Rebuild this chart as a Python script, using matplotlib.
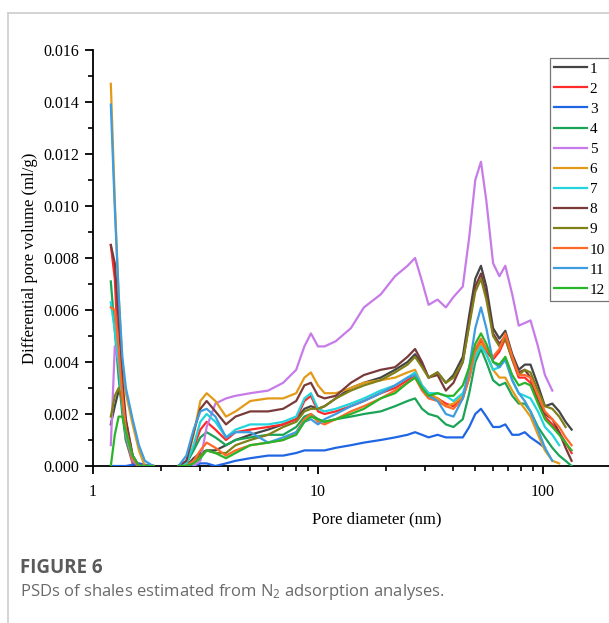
import numpy as np
import matplotlib
matplotlib.use("Agg")
import matplotlib.pyplot as plt
from matplotlib.lines import Line2D
from matplotlib.ticker import LogLocator, MultipleLocator, FixedLocator, NullFormatter

nan = np.nan

# pore diameters (nm)
diam_micro = [1.2, 1.25, 1.3, 1.35, 1.4, 1.5, 1.6, 1.7, 1.85]
diam_meso = [2.4, 2.6, 2.8, 3.0, 3.2, 3.5, 3.9, 4.3, 5, 6, 7, 8, 8.7, 9.3, 10, 10.7,
             12, 14, 16, 19, 22, 25, 27, 29, 31, 34, 37, 40, 44, 47, 50, 53, 56, 60,
             64, 68, 73, 78, 83, 88, 95, 102, 110, 118, 126, 134]

labels = ["1", "2", "3", "4", "5", "6", "7", "8", "9", "10", "11", "12"]
colors = ["#454545", "#ff2a2a", "#1f66e5", "#1aa457", "#c77be8", "#e39a18",
          "#22d4dc", "#7b3a3a", "#808018", "#ff6a2a", "#3d9ddf", "#2ab42a"]

# differential pore volume (ml/g), micropore part
s1_micro = [0.0016, 0.0023, 0.0029, 0.0027, 0.0017, 0.0004, 0.0, 0.0, 0.0]
s2_micro = [0.0085, 0.0072, 0.0040, 0.0022, 0.0010, 0.0001, 0.0, 0.0, 0.0]
s3_micro = [0.0, 0.0, 0.0, 0.0, 0.0, 0.00005, 0.0001, 0.00005, 0.0]
s4_micro = [0.0071, 0.0052, 0.0034, 0.0020, 0.0010, 0.0002, 0.0, 0.0, 0.0]
s5_micro = [0.0008, 0.0046, 0.0040, 0.0025, 0.0012, 0.0002, 0.0, 0.0, 0.0]
s6_micro = [0.0147, 0.0102, 0.0066, 0.0039, 0.0028, 0.0016, 0.0006, 0.0, 0.0]
s7_micro = [0.0063, 0.0052, 0.0040, 0.0024, 0.0013, 0.0003, 0.0, 0.0, 0.0]
s8_micro = [0.0085, 0.0078, 0.0056, 0.0033, 0.0018, 0.0004, 0.0, 0.0, 0.0]
s9_micro = [0.0019, 0.0027, 0.0030, 0.0025, 0.0014, 0.0003, 0.0, 0.0, 0.0]
s10_micro = [0.0061, 0.0060, 0.0045, 0.0027, 0.0014, 0.0003, 0.0, 0.0, 0.0]
s11_micro = [0.0139, 0.0099, 0.0066, 0.0042, 0.0030, 0.0018, 0.0008, 0.0002, 0.0]
s12_micro = [0.0, 0.0012, 0.0019, 0.0019, 0.0013, 0.0004, 0.0, 0.0, 0.0]

# mesopore part
s1_meso = [0, 0, 0.0003, 0.0005, 0.0006, 0.0006, 0.0008, 0.0010, 0.0012, 0.0014, 0.0016, 0.0018,
           0.0022, 0.0023, 0.0022, 0.0023, 0.0026, 0.0030, 0.0032, 0.0034, 0.0037, 0.0040, 0.0043,
           0.0039, 0.0034, 0.0036, 0.0032, 0.0035, 0.0042, 0.0058, 0.0072, 0.0077, 0.0069, 0.0053,
           0.0049, 0.0052, 0.0043, 0.0037, 0.0039, 0.0039, 0.0031, 0.0023, 0.0024, 0.0021, 0.0017, 0.0014]
s2_meso = [0, 0.0001, 0.0007, 0.0014, 0.0017, 0.0014, 0.0010, 0.0013, 0.0014, 0.0015, 0.0016, 0.0018,
           0.0025, 0.0027, 0.0021, 0.0020, 0.0021, 0.0023, 0.0025, 0.0028, 0.0030, 0.0033, 0.0035,
           0.0030, 0.0027, 0.0026, 0.0024, 0.0023, 0.0026, 0.0034, 0.0044, 0.0048, 0.0044, 0.0041,
           0.0044, 0.0049, 0.0041, 0.0034, 0.0034, 0.0032, 0.0025, 0.0019, 0.0016, 0.0013, 0.0009, 0.0005]
s3_meso = [0, 0, 0, 0.0001, 0.0001, 0.0, 0.0001, 0.0002, 0.0003, 0.0004, 0.0004, 0.0005,
           0.0006, 0.0006, 0.0006, 0.0006, 0.0007, 0.0008, 0.0009, 0.0010, 0.0011, 0.0012, 0.0013,
           0.0012, 0.0011, 0.0012, 0.0011, 0.0011, 0.0011, 0.0015, 0.0020, 0.0022, 0.0019, 0.0015,
           0.0015, 0.0016, 0.0012, 0.0012, 0.0013, 0.0011, 0.0009, 0.0007, nan, nan, nan, nan]
s4_meso = [0, 0.0001, 0.0006, 0.0011, 0.0013, 0.0011, 0.0008, 0.0010, 0.0011, 0.0012, 0.0012, 0.0015,
           0.0019, 0.0020, 0.0018, 0.0017, 0.0018, 0.0019, 0.0020, 0.0021, 0.0023, 0.0025, 0.0026,
           0.0022, 0.0020, 0.0019, 0.0016, 0.0015, 0.0018, 0.0028, 0.0040, 0.0045, 0.0040, 0.0033,
           0.0031, 0.0032, 0.0027, 0.0024, 0.0024, 0.0021, 0.0015, 0.0011, 0.0007, 0.0004, 0.0002, 0.0]
s5_meso = [nan, nan, 0.0, 0.0002, 0.0015, 0.0024, 0.0026, 0.0027, 0.0028, 0.0029, 0.0032, 0.0037,
           0.0046, 0.0051, 0.0046, 0.0046, 0.0048, 0.0053, 0.0061, 0.0066, 0.0073, 0.0077, 0.0080,
           0.0071, 0.0062, 0.0064, 0.0061, 0.0065, 0.0069, 0.0088, 0.0110, 0.0117, 0.0102, 0.0078,
           0.0073, 0.0077, 0.0066, 0.0054, 0.0055, 0.0056, 0.0046, 0.0035, 0.0029, nan, nan, nan]
s6_meso = [0, 0.0001, 0.0012, 0.0025, 0.0028, 0.0025, 0.0019, 0.0021, 0.0025, 0.0026, 0.0026, 0.0028,
           0.0034, 0.0036, 0.0031, 0.0028, 0.0028, 0.0030, 0.0032, 0.0033, 0.0034, 0.0036, 0.0037,
           0.0031, 0.0028, 0.0026, 0.0023, 0.0024, 0.0027, 0.0034, 0.0043, 0.0047, 0.0043, 0.0037,
           0.0034, 0.0034, 0.0029, 0.0025, 0.0022, 0.0019, 0.0012, 0.0006, 0.0002, 0.0001, nan, nan]
s7_meso = [0, 0.0001, 0.0008, 0.0017, 0.0020, 0.0017, 0.0011, 0.0014, 0.0016, 0.0016, 0.0017, 0.0019,
           0.0026, 0.0028, 0.0022, 0.0021, 0.0022, 0.0024, 0.0026, 0.0029, 0.0031, 0.0034, 0.0036,
           0.0031, 0.0028, 0.0028, 0.0027, 0.0025, 0.0028, 0.0034, 0.0042, 0.0046, 0.0043, 0.0037,
           0.0038, 0.0041, 0.0033, 0.0028, 0.0027, 0.0026, 0.0021, 0.0015, 0.0012, 0.0008, nan, nan]
s8_meso = [0, 0.0002, 0.0013, 0.0022, 0.0025, 0.0021, 0.0016, 0.0019, 0.0021, 0.0021, 0.0022, 0.0025,
           0.0031, 0.0032, 0.0027, 0.0026, 0.0027, 0.0032, 0.0035, 0.0037, 0.0038, 0.0042, 0.0045,
           0.0040, 0.0034, 0.0035, 0.0029, 0.0032, 0.0040, 0.0055, 0.0069, 0.0074, 0.0066, 0.0051,
           0.0047, 0.0050, 0.0042, 0.0036, 0.0037, 0.0034, 0.0025, 0.0020, 0.0018, 0.0013, 0.0007, 0.0002]
s9_meso = [0, 0, 0.0002, 0.0004, 0.0006, 0.0005, 0.0005, 0.0008, 0.0010, 0.0012, 0.0015, 0.0017,
           0.0021, 0.0022, 0.0022, 0.0023, 0.0026, 0.0029, 0.0031, 0.0033, 0.0036, 0.0039, 0.0042,
           0.0038, 0.0034, 0.0036, 0.0032, 0.0034, 0.0040, 0.0054, 0.0067, 0.0072, 0.0064, 0.0050,
           0.0046, 0.0049, 0.0041, 0.0035, 0.0037, 0.0036, 0.0029, 0.0023, 0.0022, 0.0019, 0.0015, nan]
s10_meso = [0, 0, 0.0002, 0.0006, 0.0009, 0.0007, 0.0004, 0.0006, 0.0008, 0.0009, 0.0010, 0.0013,
            0.0018, 0.0020, 0.0017, 0.0016, 0.0018, 0.0021, 0.0023, 0.0026, 0.0029, 0.0032, 0.0034,
            0.0029, 0.0026, 0.0025, 0.0023, 0.0022, 0.0026, 0.0034, 0.0045, 0.0049, 0.0045, 0.0042,
            0.0045, 0.0051, 0.0042, 0.0035, 0.0035, 0.0034, 0.0027, 0.0021, 0.0018, 0.0015, 0.0011, 0.0008]
s11_meso = [0, 0.0004, 0.0014, 0.0021, 0.0022, 0.0019, 0.0011, 0.0013, 0.0013, 0.0009, 0.0011, 0.0013,
            0.0017, 0.0018, 0.0016, 0.0018, 0.0020, 0.0023, 0.0025, 0.0028, 0.0031, 0.0034, 0.0035,
            0.0030, 0.0027, 0.0025, 0.0020, 0.0019, 0.0026, 0.0038, 0.0053, 0.0061, 0.0053, 0.0040,
            0.0038, 0.0041, 0.0033, 0.0028, 0.0025, 0.0021, 0.0014, 0.0007, 0.0002, nan, nan, nan]
s12_meso = [0, 0, 0.0001, 0.0003, 0.0006, 0.0005, 0.0003, 0.0005, 0.0008, 0.0009, 0.0010, 0.0012,
            0.0017, 0.0019, 0.0018, 0.0017, 0.0018, 0.0020, 0.0022, 0.0026, 0.0028, 0.0032, 0.0034,
            0.0030, 0.0027, 0.0028, 0.0027, 0.0027, 0.0031, 0.0038, 0.0047, 0.0051, 0.0047, 0.0040,
            0.0039, 0.0042, 0.0035, 0.0031, 0.0032, 0.0031, 0.0024, 0.0018, 0.0015, 0.0012, 0.0009, 0.0006]

micro = [s1_micro, s2_micro, s3_micro, s4_micro, s5_micro, s6_micro,
         s7_micro, s8_micro, s9_micro, s10_micro, s11_micro, s12_micro]
meso = [s1_meso, s2_meso, s3_meso, s4_meso, s5_meso, s6_meso,
        s7_meso, s8_meso, s9_meso, s10_meso, s11_meso, s12_meso]

plt.rcParams["font.family"] = ["Liberation Serif", "DejaVu Serif"]
plt.rcParams["mathtext.fontset"] = "custom"
plt.rcParams["mathtext.rm"] = "Open Sans"
plt.rcParams["mathtext.default"] = "regular"

W, H = 609, 623
fig = plt.figure(figsize=(W / 100, H / 100), dpi=100)

x_left, x_right = 93, 660
y_top, y_bot = 50, 466
ax = fig.add_axes([x_left / W, 1 - y_bot / H, (x_right - x_left) / W, (y_bot - y_top) / H])
ax.set_xscale("log")
ax.set_xlim(1, 10 ** ((x_right - x_left) / 225))
ax.set_ylim(0, 0.016)

xm = np.array(diam_micro)
xs = np.array(diam_meso)
for i in range(12):
    ax.plot(xm, micro[i], color=colors[i], lw=1.6, solid_joinstyle="round", zorder=3)
    ax.plot(xs, meso[i], color=colors[i], lw=1.6, solid_joinstyle="round", zorder=3,
            label=labels[i])

for s in ["top", "right"]:
    ax.spines[s].set_visible(False)
for s in ["left", "bottom"]:
    ax.spines[s].set_linewidth(1.3)
    ax.spines[s].set_color("black")

ax.xaxis.set_major_locator(FixedLocator([1, 10, 100]))
ax.xaxis.set_minor_locator(LogLocator(base=10, subs=np.arange(2, 10), numticks=20))
ax.xaxis.set_minor_formatter(NullFormatter())
ax.set_xticklabels(["1", "10", "100"])
ax.yaxis.set_major_locator(MultipleLocator(0.002))
ax.yaxis.set_minor_locator(MultipleLocator(0.001))
ax.yaxis.set_major_formatter(matplotlib.ticker.FuncFormatter(lambda v, p: f"{v:.3f}"))
ax.tick_params(axis="both", which="major", direction="out", length=6, width=1.3,
               labelsize=11.5, pad=4)
ax.tick_params(axis="both", which="minor", direction="out", length=3.5, width=1.2)
ax.tick_params(axis="x", which="major", pad=7)

ax.set_xlabel("Pore diameter (nm)", fontsize=12, labelpad=8)
ax.set_ylabel("Differential pore volume (ml/g)", fontsize=12, labelpad=4)

leg = ax.legend(loc="upper left",
                bbox_to_anchor=((550 - x_left) / (x_right - x_left), 1 - (58 - y_top) / (y_bot - y_top)),
                frameon=True, fancybox=False, fontsize=11, handlelength=2.2,
                handletextpad=0.15, labelspacing=0.42, borderpad=0.25, borderaxespad=0)
leg.get_frame().set_edgecolor("#555555")
leg.get_frame().set_linewidth(0.9)

# caption
fig.text(20 / W, 1 - 568 / H, "FIGURE 6", fontsize=13.5, fontweight="bold",
         family=["Open Sans", "DejaVu Sans"], color="#5a5a5a", va="center")
fig.text(20 / W, 1 - 592 / H, "PSDs of shales estimated from N$_2$ adsorption analyses.",
         fontsize=12, family=["Open Sans", "DejaVu Sans"], color="#6a6a6a", va="center")

# card border
fig.add_artist(Line2D([8 / W, 1], [1 - 13 / H, 1 - 13 / H], color="#cccccc", lw=1.2))
fig.add_artist(Line2D([8 / W, 8 / W], [1 - 13 / H, 0], color="#cccccc", lw=1.2))

fig.savefig("out.png", dpi=100)
